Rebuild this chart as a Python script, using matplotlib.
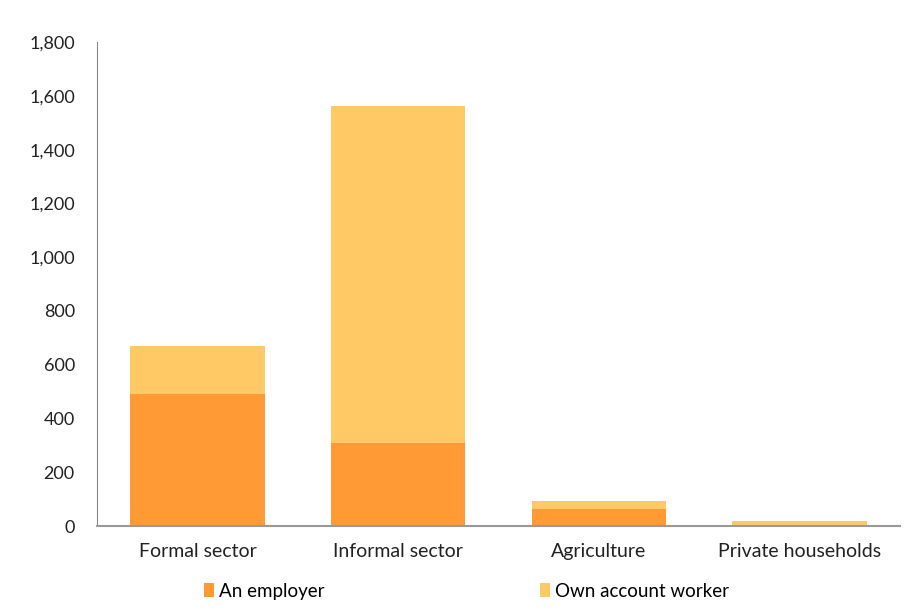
import numpy as np
import matplotlib
matplotlib.use("Agg")
from matplotlib import pyplot as plt
from matplotlib.ticker import FuncFormatter

categories = ['Formal sector', 'Informal sector', 'Agriculture', 'Private households']
employer = [491, 309, 63, 2]
own_account = [179, 1253, 30, 17]

plt.rcParams['font.family'] = ['Lato', 'DejaVu Sans']

fig = plt.figure(figsize=(9.11, 6.12), dpi=100)
ax = fig.add_axes([0.1065, 0.1405, 0.8815, 0.7905])

x = np.arange(len(categories))
b1 = ax.bar(x, employer, width=0.67, color='#FF9A35', label='An employer')
b2 = ax.bar(x, own_account, width=0.67, bottom=employer, color='#FFCA66', label='Own account worker')

ax.set_xlim(-0.5, 3.5)
ax.set_ylim(0, 1800)
ax.set_yticks(np.arange(0, 1801, 200))
ax.yaxis.set_major_formatter(FuncFormatter(lambda v, p: f'{int(v):,}'))
ax.set_xticks(x)
ax.set_xticklabels(categories)

for s in ['top', 'right']:
    ax.spines[s].set_visible(False)
ax.spines['left'].set_color('#888888')
ax.spines['bottom'].set_color('#999999')
ax.spines['bottom'].set_linewidth(1.5)
ax.tick_params(axis='both', length=0, colors='#222222')
ax.tick_params(axis='y', pad=16, labelsize=13)
ax.tick_params(axis='x', pad=12, labelsize=14)

fig.legend(handles=[b1, b2], loc='center', bbox_to_anchor=(0.512, 0.034), ncol=2,
           frameon=False, fontsize=13.5, handlelength=0.55, handleheight=0.75,
           handletextpad=0.25, columnspacing=11.5)

plt.savefig('out.png', dpi=100)
